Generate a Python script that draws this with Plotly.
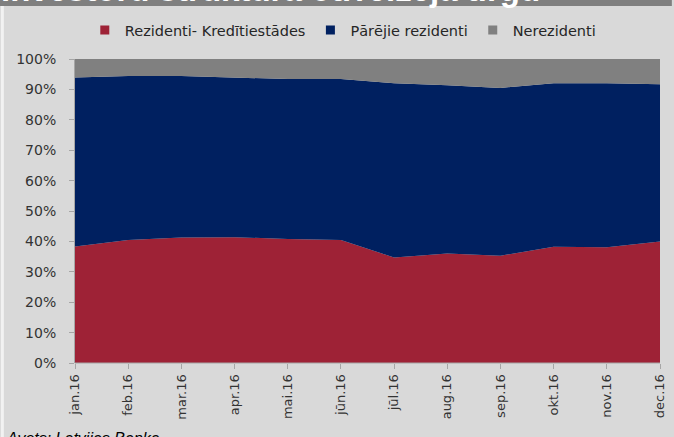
import plotly.graph_objects as go

months = ["jan.16", "feb.16", "mar.16", "apr.16", "mai.16", "jūn.16",
          "jūl.16", "aug.16", "sep.16", "okt.16", "nov.16", "dec.16"]
rez_kred = [38.3, 40.5, 41.3, 41.4, 40.8, 40.5, 34.7, 36.0, 35.3, 38.2, 38.1, 40.0]
parejie = [55.6, 53.9, 53.1, 52.6, 52.6, 52.9, 57.3, 55.4, 55.2, 53.8, 53.9, 51.7]
nerez = [6.1, 5.6, 5.6, 6.0, 6.6, 6.6, 8.0, 8.6, 9.5, 8.0, 8.0, 8.3]

names = ["Rezidenti- Kredītiestādes", "Pārējie rezidenti", "Nerezidenti"]
colors = ["#9e2236", "#002060", "#808080"]
series = [rez_kred, parejie, nerez]

W, H = 674, 437
ML, MR, MT, MB = 75, 7, 59, 74
PW = W - ML - MR
PH = H - MT - MB


def py(p):
    return (H - MB - p) / PH


def px(p):
    return (p - ML) / PW


fig = go.Figure()
for nm, col, vals in zip(names, colors, series):
    fig.add_trace(go.Scatter(
        x=months, y=vals, name=nm, mode="lines", stackgroup="one",
        line=dict(width=0, color=col), fillcolor=col, showlegend=False,
        hoverinfo="x+y+name"))
for nm, col in zip(names, colors):
    fig.add_trace(go.Scatter(
        x=[None], y=[None], name=nm, mode="markers",
        marker=dict(symbol="square", size=9, color=col), showlegend=True))

fig.update_layout(
    width=W, height=H,
    margin=dict(l=ML, r=MR, t=MT, b=MB),
    paper_bgcolor="#d9d9d9", plot_bgcolor="#d9d9d9",
    font=dict(family="DejaVu Sans", size=13, color="#333333"),
    showlegend=True,
    legend=dict(orientation="h", x=px(346), xanchor="center",
                y=py(30), yanchor="middle", bgcolor="rgba(0,0,0,0)",
                font=dict(family="DejaVu Sans", size=14.5, color="#262626"),
                traceorder="normal", itemwidth=30, tracegroupgap=0),
    xaxis=dict(type="category", range=[0, 11], showgrid=False,
               showline=False, ticks="outside", ticklen=5,
               tickcolor="#a6a6a6", tickangle=-90,
               tickfont=dict(size=13, color="#333333"), zeroline=False),
    yaxis=dict(range=[0, 100], dtick=10, ticksuffix="%", showgrid=False,
               showline=True, linecolor="#a6a6a6", linewidth=1,
               ticks="outside", ticklen=5, tickcolor="#a6a6a6",
               ticklabelstandoff=10,
               tickfont=dict(size=14, color="#333333"), zeroline=False),
    shapes=[
        dict(type="rect", xref="paper", yref="paper",
             x0=px(-5), x1=px(W + 5), y0=py(6), y1=py(-5),
             fillcolor="#7f7f7f", line=dict(width=0), layer="below"),
        dict(type="rect", xref="paper", yref="paper",
             x0=px(0), x1=px(3), y0=py(H + 5), y1=py(6),
             fillcolor="#f2f2f2", line=dict(width=0), layer="below"),
        dict(type="line", xref="paper", yref="paper",
             x0=0, x1=1, y0=0, y1=0,
             line=dict(color="#a6a6a6", width=1), layer="above"),
    ],
    annotations=[
        dict(text="<b>investoru struktūra otrreizējā tirgū</b>", xref="paper",
             yref="paper", x=px(-2), y=py(10.5), xanchor="left",
             yanchor="bottom", showarrow=False,
             font=dict(family="Liberation Sans", size=33, color="white")),
        dict(text="<i>Avots: Latvijas Banka</i>", xref="paper", yref="paper",
             x=px(3), y=py(428), xanchor="left", yanchor="top",
             showarrow=False,
             font=dict(family="Liberation Sans", size=16, color="#000000")),
    ],
)

fig.write_html("out.html",
               config={"displayModeBar": False},
               post_script="document.body.style.margin='0';"
                           "document.body.style.overflow='hidden';")
